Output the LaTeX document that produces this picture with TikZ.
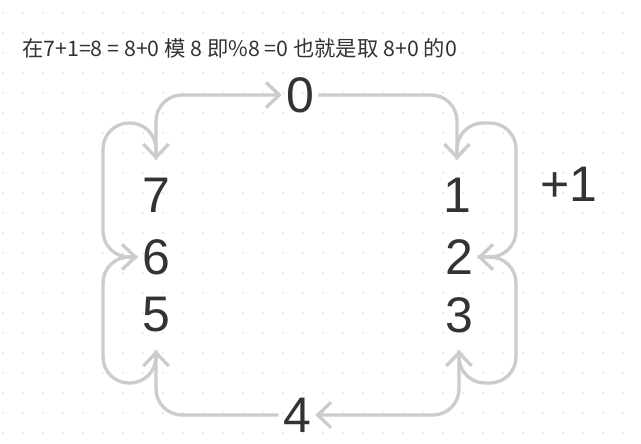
\documentclass[tikz,border=0pt]{standalone}
\usepackage{fontspec}
\setmainfont{Noto Sans CJK SC}
\newfontfamily\digitfont{Liberation Sans}
\usetikzlibrary{arrows.meta}

\definecolor{linegray}{HTML}{CCCCCC}
\definecolor{dotgray}{HTML}{E0E0E0}
\definecolor{textgray}{HTML}{333333}

\begin{document}
\begin{tikzpicture}[x=0.75pt, y=-0.75pt,
        digit/.style = {text = textgray, font = \digitfont\fontsize{37.5}{37.5}\selectfont,
                        inner sep = 0pt, minimum width = 27pt, minimum height = 52.5pt},
        link/.style  = {-{Straight Barb[length=10pt, width=19pt]}, draw = linegray,
                        line width = 2.5pt, rounded corners = 19.5pt}]
        \fill[white] (0,0) rectangle (641,443);
        \useasboundingbox (0,0) rectangle (641,443);

        % ---------------------------------------------------------------------------
        % Dot grid
        % ---------------------------------------------------------------------------
        \foreach \i in {0,...,31} {
            \foreach \j in {0,...,21} {
                \fill[dotgray] (3+20*\i, 13+20*\j) circle (1);
            }
        }

        % ---------------------------------------------------------------------------
        % Draw nodes
        % ---------------------------------------------------------------------------
        \node[  anchor = base west,
                inner sep = 0pt,
                text = textgray,
                font = \fontsize{16}{16}\selectfont]  (title) at (22,56) {在7+1=8 = 8+0 模 8 即\%8 =0 也就是取 8+0 的0};

        \node[digit]  (n0) at (300,95)  {0};
        \node[digit]  (n1) at (457,195) {1};
        \node[digit]  (n2) at (459,257) {2};
        \node[digit]  (n3) at (459,315) {3};
        \node[digit]  (n4) at (297,415) {4};
        \node[digit]  (n5) at (156,315) {5};
        \node[digit]  (n6) at (156,257) {6};
        \node[digit]  (n7) at (156,195) {7};
        \node[digit]  (plus) at (569,184) {+1};

        % ---------------------------------------------------------------------------
        % Draw arrows
        % ---------------------------------------------------------------------------
        \draw [link]  (n0.east) -| (n1.north);                                                        % 0 to 1
        \draw [link]  (n1.north) -- (n1.north |- 0,123) -- (516,123) -- (516,257) -- (n2.east);       % 1 to 2
        \draw [link]  (n2.east) -- (516,257) -- (516,383) -- (n3.south |- 0,383) -- (n3.south);       % 2 to 3
        \draw [link]  (n3.south) |- (n4.east);                                                        % 3 to 4
        \draw [link]  (n4.west) -| (n5.south);                                                        % 4 to 5
        \draw [link]  (n5.south) -- (n5.south |- 0,383) -- (103,383) -- (103,257) -- (n6.west);       % 5 to 6
        \draw [link]  (n6.west) -- (103,257) -- (103,123) -- (n7.north |- 0,123) -- (n7.north);       % 6 to 7
        \draw [link]  (n7.north) |- (n0.west);                                                        % 7 to 0

\end{tikzpicture}
\end{document}
